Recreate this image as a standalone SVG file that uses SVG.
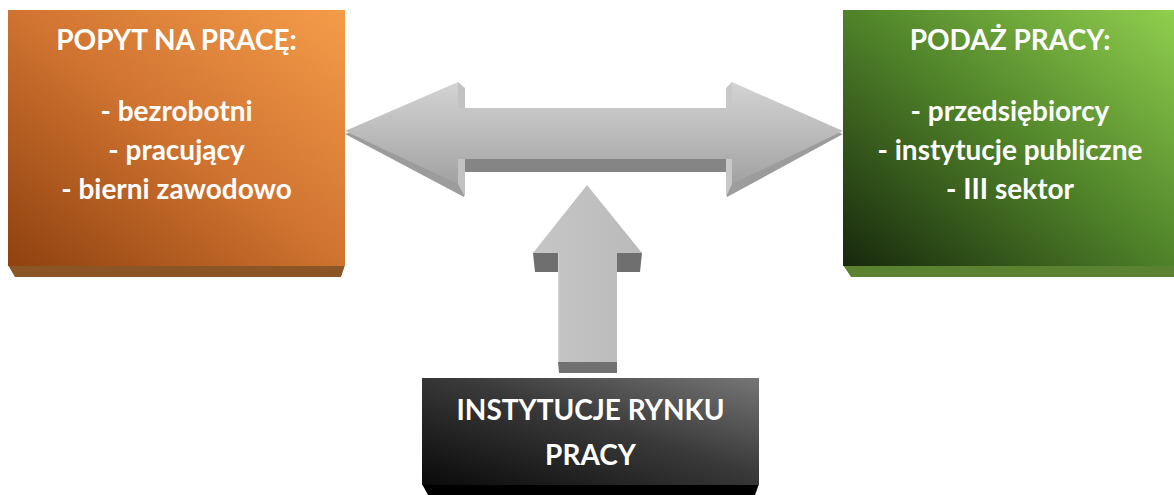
<svg xmlns="http://www.w3.org/2000/svg" width="1174" height="495" viewBox="0 0 1174 495">
  <style>
    .lbl { font-family: "Lato", "Liberation Sans", sans-serif; font-weight: bold; font-size: 28px; fill: #ffffff; text-anchor: middle; }
  </style>
  <defs>
    <linearGradient id="gOrange" x1="0" y1="1" x2="1" y2="0">
      <stop offset="0" stop-color="#8f410f"/>
      <stop offset="0.5" stop-color="#cf7330"/>
      <stop offset="1" stop-color="#f59c4a"/>
    </linearGradient>
    <linearGradient id="gGreen" x1="0" y1="1" x2="1" y2="0">
      <stop offset="0" stop-color="#17280c"/>
      <stop offset="0.5" stop-color="#4f8229"/>
      <stop offset="1" stop-color="#90cf4e"/>
    </linearGradient>
    <linearGradient id="gDark" x1="0" y1="1" x2="1" y2="0">
      <stop offset="0" stop-color="#0a0a0a"/>
      <stop offset="0.55" stop-color="#3a3a3a"/>
      <stop offset="1" stop-color="#767676"/>
    </linearGradient>
    <linearGradient id="gArrowFront" x1="0" y1="0" x2="0" y2="1">
      <stop offset="0" stop-color="#d4d4d4"/>
      <stop offset="1" stop-color="#a2a2a2"/>
    </linearGradient>
    <linearGradient id="gArrowUp" x1="0" y1="0" x2="1" y2="0">
      <stop offset="0" stop-color="#c6c6c6"/>
      <stop offset="1" stop-color="#bababa"/>
    </linearGradient>
  </defs>

  <!-- connectors: double horizontal arrow and upward arrow -->
  <g id="connectors">
    <g id="arrow-both">
      <!-- extruded depth -->
      <polygon points="345,134 464,95 464,121 727,121 727,95 843,134 727,197 727,172 464,172 464,197" fill="#9c9c9c"/>
      <rect x="458" y="159" width="274" height="13" fill="#858585"/>
      <!-- bevels behind arrow heads -->
      <polygon points="458,82 465,88 465,197 458,184" fill="#c2c2c2"/>
      <polygon points="732,82 726,88 726,197 732,184" fill="#c8c8c8"/>
      <!-- front face -->
      <polygon points="345,131 458,82 458,108 732,108 732,82 843,131 732,184 732,159 458,159 458,184" fill="url(#gArrowFront)"/>
    </g>
    <g id="arrow-up">
      <polygon points="533,253 558,253 558,272 535,272" fill="#6f6f6f"/>
      <polygon points="617,253 642,253 640,272 617,272" fill="#6f6f6f"/>
      <polygon points="558,362 617,362 617,373 559,373" fill="#707070"/>
      <polygon points="587,185 642,253 617,253 617,362 558,362 558,253 533,253" fill="url(#gArrowUp)"/>
      <line x1="558.5" y1="253" x2="558.5" y2="362" stroke="#d6d6d6" stroke-width="1"/>
    </g>
  </g>

  <!-- demand box -->
  <g id="node-popyt">
    <polygon points="8,265 345,265 341,277 15,277" fill="#8c5526"/>
    <rect x="8" y="10" width="337" height="256" fill="url(#gOrange)"/>
    <text class="lbl" x="176.5" y="50">POPYT NA PRACĘ:</text>
    <text class="lbl" x="176.5" y="121">- bezrobotni</text>
    <text class="lbl" x="176.5" y="160">- pracujący</text>
    <text class="lbl" x="176.5" y="199">- bierni zawodowo</text>
  </g>

  <!-- supply box -->
  <g id="node-podaz">
    <polygon points="843,265 1174,265 1174,277 851,277" fill="#5a8231"/>
    <rect x="843" y="10" width="331" height="256" fill="url(#gGreen)"/>
    <text class="lbl" x="1010" y="50">PODAŻ PRACY:</text>
    <text class="lbl" x="1010" y="121">- przedsiębiorcy</text>
    <text class="lbl" x="1010" y="160">- instytucje publiczne</text>
    <text class="lbl" x="1010" y="199">- III sektor</text>
  </g>

  <!-- labour market institutions box -->
  <g id="node-instytucje">
    <polygon points="422,484 759,484 755,495 428,495" fill="#000000"/>
    <rect x="422" y="378" width="337" height="107" fill="url(#gDark)"/>
    <text class="lbl" x="590.5" y="420">INSTYTUCJE RYNKU</text>
    <text class="lbl" x="590.5" y="465">PRACY</text>
  </g>
</svg>
